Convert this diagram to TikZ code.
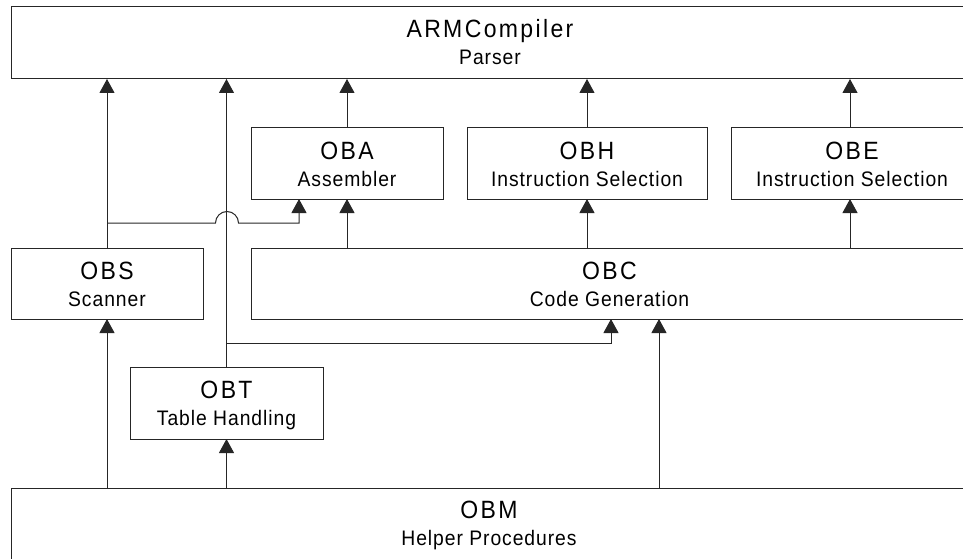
\documentclass[tikz,border=0pt]{standalone}
\usepackage{fontspec}
\setmainfont{Liberation Sans}
\newfontfamily\ttlfont[LetterSpace=9.5,FakeStretch=0.92]{Liberation Sans}
\newfontfamily\subfont[LetterSpace=4.5,FakeStretch=0.92]{Liberation Sans}
\usetikzlibrary{arrows.meta}
\tikzset{
  box/.style={draw=black!85, line width=1pt, rectangle, inner sep=0pt, outer sep=0pt, anchor=north west},
  ttl/.style={anchor=base, inner sep=0pt, font=\ttlfont\fontsize{25pt}{25pt}\selectfont},
  sub/.style={anchor=base, inner sep=0pt, font=\subfont\fontsize{21pt}{21pt}\selectfont},
  conn/.style={draw=black!85, line width=1pt},
  arr/.style={conn, -{Triangle[width=15pt,length=14pt]}}
}
\begin{document}
\begin{tikzpicture}[x=1pt,y=-1pt]
\useasboundingbox (0,0) rectangle (963,559);
% boxes
\node[box, minimum width=958pt, minimum height=72pt] (arm) at (11,7) {};
\node[box, minimum width=192pt, minimum height=71pt] (oba) at (251,128) {};
\node[box, minimum width=240pt, minimum height=71pt] (obh) at (467,128) {};
\node[box, minimum width=242pt, minimum height=71pt] (obe) at (731,128) {};
\node[box, minimum width=192pt, minimum height=71pt] (obs) at (11,248) {};
\node[box, minimum width=717pt, minimum height=71pt] (obc) at (251,248) {};
\node[box, minimum width=193pt, minimum height=72pt] (obt) at (130,367) {};
\node[box, minimum width=956pt, minimum height=80pt] (obm) at (11,488) {};
% texts
\node[ttl] (armT) at ([yshift=-31pt]arm.north) {ARMCompiler};
\node[sub] (armS) at ([yshift=-58pt]arm.north) {Parser};
\node[ttl] (obaT) at ([yshift=-31pt]oba.north) {OBA};
\node[sub] (obaS) at ([yshift=-58pt]oba.north) {Assembler};
\node[ttl] (obhT) at ([yshift=-31pt]obh.north) {OBH};
\node[sub] (obhS) at ([yshift=-58pt]obh.north) {Instruction Selection};
\node[ttl] (obeT) at ([yshift=-31pt]obe.north) {OBE};
\node[sub] (obeS) at ([yshift=-58pt]obe.north) {Instruction Selection};
\node[ttl] (obsT) at ([yshift=-31pt]obs.north) {OBS};
\node[sub] (obsS) at ([yshift=-58pt]obs.north) {Scanner};
\node[ttl] (obcT) at ([yshift=-31pt]obc.north) {OBC};
\node[sub] (obcS) at ([yshift=-58pt]obc.north) {Code Generation};
\node[ttl] (obtT) at ([yshift=-31pt]obt.north) {OBT};
\node[sub] (obtS) at ([yshift=-58pt]obt.north) {Table Handling};
\node[ttl] (obmT) at ([yshift=-30pt]obm.north) {OBM};
\node[sub] (obmS) at ([yshift=-57pt]obm.north) {Helper Procedures};
% junction coordinates
\coordinate (j1) at (107,223);
\coordinate (j2) at (227,343);
% connectors to ARMCompiler
\draw[arr] (obs.north) -- (obs.north |- arm.south);
\draw[arr] (obt.north) -- (obt.north |- arm.south);
\draw[arr] (oba.north) -- (oba.north |- arm.south);
\draw[arr] (obh.north) -- (obh.north |- arm.south);
\draw[arr] (obe.north -| 850,0) -- (arm.south -| 850,0);
% OBS -> OBA with line jump
\draw[arr] (j1) -- (215.5,223)
  .. controls (215.5,216.65) and (220.65,211.5) .. (227,211.5)
  .. controls (233.35,211.5) and (238.5,216.65) .. (238.5,223)
  -- (299,223) -- (oba.south -| 299,0);
% OBC -> OBA, OBH, OBE
\draw[arr] (obc.north -| 347,0) -- (oba.south -| 347,0);
\draw[arr] (obh.south |- obc.north) -- (obh.south);
\draw[arr] (obc.north -| 850,0) -- (obe.south -| 850,0);
% OBT -> OBC
\draw[arr] (j2) -- (611,343) -- (obc.south -| 611,0);
% OBM -> OBS, OBT, OBC
\draw[arr] (obs.south |- obm.north) -- (obs.south);
\draw[arr] (obt.south |- obm.north) -- (obt.south);
\draw[arr] (obm.north -| 659,0) -- (obc.south -| 659,0);
\end{tikzpicture}
\end{document}
